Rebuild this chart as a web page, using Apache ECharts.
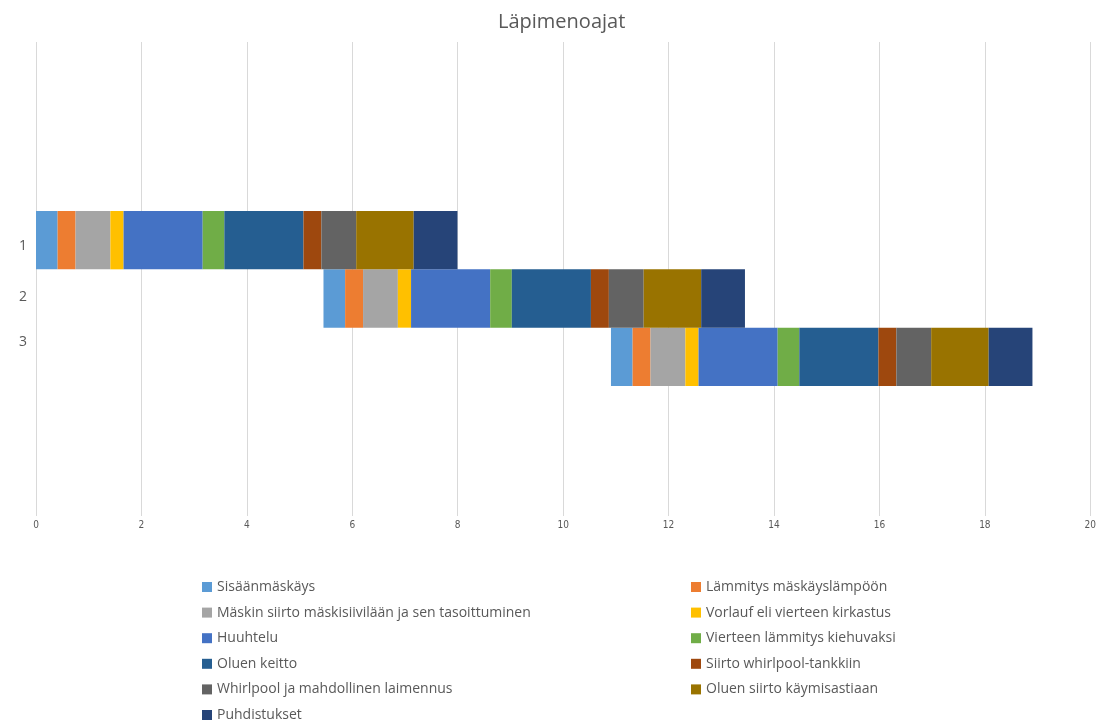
<!DOCTYPE html>
<html>
<head>
<meta charset="utf-8">
<title>Läpimenoajat</title>
<script src="https://cdn.jsdelivr.net/npm/echarts@6/dist/echarts.min.js"></script>
<style>
  html, body { margin: 0; padding: 0; background: #ffffff; }
  #chart { width: 1099px; height: 723px; }
</style>
</head>
<body>
<div id="chart"></div>
<script>
// Brew batches (y categories)
const batches = ['1', '2', '3'];

// Start time of each batch, hours
const batchStart = [0, 5.45, 10.9];

// Process phases, in order
const phases = [
  'Sisäänmäskäys',
  'Lämmitys mäskäyslämpöön',
  'Mäskin siirto mäskisiivilään ja sen tasoittuminen',
  'Vorlauf eli vierteen kirkastus',
  'Huuhtelu',
  'Vierteen lämmitys kiehuvaksi',
  'Oluen keitto',
  'Siirto whirlpool-tankkiin',
  'Whirlpool ja mahdollinen laimennus',
  'Oluen siirto käymisastiaan',
  'Puhdistukset'
];

// Phase durations per batch, hours (rows: phases, columns: batches 1..3)
const durations = [
  [0.41, 0.41, 0.41],
  [0.34, 0.34, 0.34],
  [0.66, 0.66, 0.66],
  [0.25, 0.25, 0.25],
  [1.50, 1.50, 1.50],
  [0.41, 0.41, 0.41],
  [1.50, 1.50, 1.50],
  [0.34, 0.34, 0.34],
  [0.66, 0.66, 0.66],
  [1.09, 1.09, 1.09],
  [0.83, 0.83, 0.83]
];

const phaseColors = [
  '#5B9BD5', '#ED7D31', '#A5A5A5', '#FFC000', '#4472C4', '#70AD47',
  '#255E91', '#9E480E', '#636363', '#997300', '#264478'
];

// Time axis ticks
const timeMin = 0;
const timeMax = 20;
const timeStep = 2;

const textGrey = '#595959';

const chart = echarts.init(document.getElementById('chart'), null, { renderer: 'canvas' });

// invisible offset bar that pushes each batch to its start time
const series = [{
  name: '_start',
  type: 'bar',
  stack: 'batch',
  xAxisIndex: 1,
  yAxisIndex: 1,
  silent: true,
  barCategoryGap: 0,
  itemStyle: { color: 'rgba(0,0,0,0)' },
  emphasis: { disabled: true },
  data: batchStart
}];

phases.forEach((name, i) => {
  series.push({
    name: name,
    type: 'bar',
    stack: 'batch',
    xAxisIndex: 1,
    yAxisIndex: 1,
    barCategoryGap: 0,
    itemStyle: { color: phaseColors[i] },
    data: durations[i]
  });
});

const leftColumn = phases.filter((_, i) => i % 2 === 0);
const rightColumn = phases.filter((_, i) => i % 2 === 1);

const legendBase = {
  type: 'plain',
  orient: 'vertical',
  top: 580,
  height: 160,
  padding: 0,
  icon: 'rect',
  itemWidth: 10,
  itemHeight: 10,
  itemGap: 11.6,
  selectedMode: false,
  textStyle: {
    color: textGrey,
    fontSize: 14,
    lineHeight: 14,
    fontFamily: 'Open Sans, sans-serif'
  }
};

// small vertical nudges for the batch labels
const labelShift = { '1': [12, 0, 0, 0], '2': [0, 0, 2, 0], '3': [0, 0, 30, 0] };
const rich = {};
batches.forEach((b, i) => {
  rich['b' + i] = {
    color: textGrey,
    fontSize: 14,
    fontFamily: 'Open Sans, sans-serif',
    padding: labelShift[b]
  };
});

chart.setOption({
  animation: false,
  backgroundColor: '#ffffff',
  title: {
    text: 'Läpimenoajat',
    left: 493,
    top: 7,
    textStyle: {
      color: textGrey,
      fontSize: 20,
      fontWeight: 'normal',
      fontFamily: 'Open Sans, sans-serif'
    }
  },
  legend: [
    Object.assign({}, legendBase, { left: 202, data: leftColumn }),
    Object.assign({}, legendBase, { left: 691, data: rightColumn })
  ],
  grid: [
    // full plot area: time axis and vertical gridlines
    { left: 36, right: 8, top: 42, bottom: 207 },
    // band holding the batch bars
    { left: 36, right: 8, top: 211, height: 175 }
  ],
  xAxis: [
    {
      type: 'value',
      gridIndex: 0,
      min: timeMin,
      max: timeMax,
      interval: timeStep,
      axisLine: { show: false },
      axisTick: { show: false },
      splitLine: { show: true, lineStyle: { color: '#d9d9d9', width: 1 } },
      axisLabel: {
        color: textGrey,
        fontSize: 10,
        margin: 4,
        fontFamily: 'Liberation Sans Narrow, DejaVu Sans Condensed, sans-serif'
      }
    },
    {
      type: 'value',
      gridIndex: 1,
      min: timeMin,
      max: timeMax,
      show: false,
      splitLine: { show: false }
    }
  ],
  yAxis: [
    {
      type: 'value',
      gridIndex: 0,
      show: false
    },
    {
      type: 'category',
      gridIndex: 1,
      inverse: true,
      data: batches,
      axisLine: { show: false },
      axisTick: { show: false },
      splitLine: { show: false },
      axisLabel: {
        margin: 9,
        formatter: (value, idx) => '{b' + idx + '|' + value + '}',
        rich: rich
      }
    }
  ],
  series: series
});
</script>
</body>
</html>
